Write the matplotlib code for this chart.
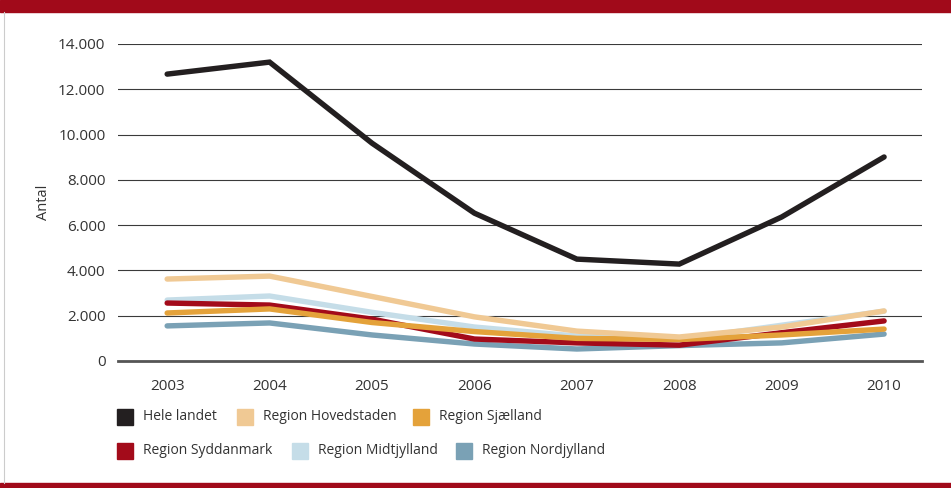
import matplotlib.pyplot as plt
from matplotlib.patches import Rectangle

plt.rcParams['font.family'] = ['Open Sans', 'DejaVu Sans']

years = [2003, 2004, 2005, 2006, 2007, 2008, 2009, 2010]
hele_landet = [12670, 13200, 9620, 6530, 4500, 4280, 6360, 9010]
hovedstaden = [3620, 3750, 2850, 1950, 1320, 1060, 1500, 2210]
sjaelland = [2120, 2300, 1700, 1300, 1000, 950, 1150, 1410]
syddanmark = [2560, 2470, 1850, 970, 800, 700, 1250, 1770]
midtjylland = [2690, 2870, 2150, 1500, 1100, 950, 1580, 2200]
nordjylland = [1550, 1680, 1150, 750, 530, 680, 800, 1190]
yticks = [0, 2000, 4000, 6000, 8000, 10000, 12000, 14000]
ytick_labels = ['0', '2.000', '4.000', '6.000', '8.000', '10.000', '12.000', '14.000']

series = [
    ('Region Nordjylland', nordjylland, '#7aa1b5'),
    ('Region Midtjylland', midtjylland, '#c5dde8'),
    ('Region Syddanmark', syddanmark, '#a30b1a'),
    ('Region Sjælland', sjaelland, '#e4a23a'),
    ('Region Hovedstaden', hovedstaden, '#f0c994'),
    ('Hele landet', hele_landet, '#231f20'),
]

fig = plt.figure(figsize=(9.51, 4.88), dpi=100)
ax = fig.add_axes([118 / 951, 1 - 361 / 488, (922 - 118) / 951, (361 - 44) / 488])

for name, vals, col in series:
    ax.plot(years, vals, color=col, lw=3.9, solid_capstyle='round', solid_joinstyle='miter')

ax.set_xlim(2002.52, 2010.37)
ax.set_ylim(0, 14000)
ax.set_yticks(yticks)
ax.set_yticklabels(ytick_labels)
ax.set_xticks(years)
ax.grid(axis='y', color='#3a3a3a', lw=0.8)
ax.set_axisbelow(True)
for s in ['top', 'right', 'left']:
    ax.spines[s].set_visible(False)
ax.spines['bottom'].set_color('#555555')
ax.spines['bottom'].set_linewidth(2)
ax.tick_params(axis='both', length=0, labelsize=11, labelcolor='#333333')
ax.tick_params(axis='y', pad=9)
ax.tick_params(axis='x', pad=13)
ax.set_ylabel('Antal', fontsize=10.5, color='#333333', labelpad=5)

# top band, bottom rule and left edge
fig.patches.append(Rectangle((0, 1 - 12 / 488), 1, 12 / 488, transform=fig.transFigure,
                             color='#a10a1a', zorder=0))
fig.patches.append(Rectangle((0, 0), 1, 5 / 488, transform=fig.transFigure,
                             color='#a10a1a', zorder=0))
fig.add_artist(plt.Line2D([4 / 951, 4 / 951], [5 / 488, 1 - 12 / 488], transform=fig.transFigure,
                          color='#cccccc', lw=0.8))

# legend, drawn as two rows
legend_rows = [
    [('Hele landet', '#231f20', 117), ('Region Hovedstaden', '#f0c994', 237), ('Region Sjælland', '#e4a23a', 413)],
    [('Region Syddanmark', '#a30b1a', 117), ('Region Midtjylland', '#c5dde8', 292), ('Region Nordjylland', '#7aa1b5', 456)],
]
for row_y, row in zip([417, 451], legend_rows):
    for label, col, x in row:
        fig.patches.append(Rectangle((x / 951, 1 - (row_y + 8) / 488), 16 / 951, 16 / 488,
                                     transform=fig.transFigure, color=col))
        fig.text((x + 26) / 951, 1 - row_y / 488, label, fontsize=10, color='#333333',
                 va='center', ha='left')

fig.savefig('out.png', dpi=100)
